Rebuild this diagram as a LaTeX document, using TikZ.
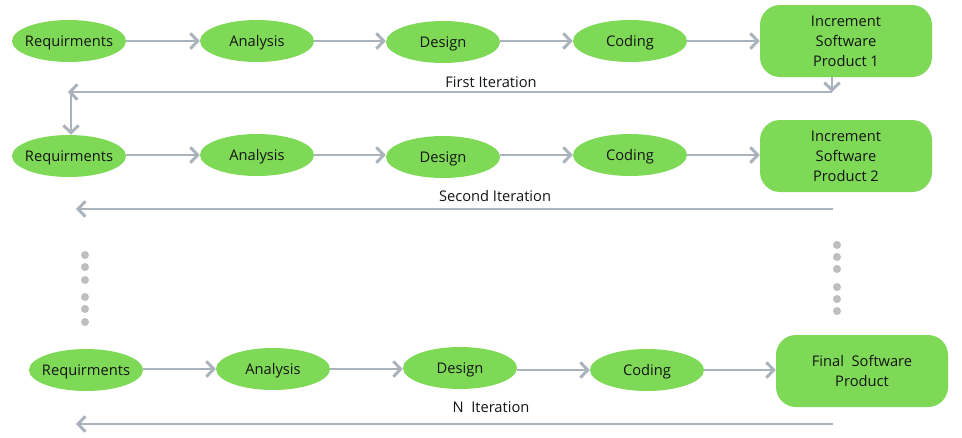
\documentclass[tikz,border=0pt]{standalone}
\usepackage{fontspec}
\setmainfont{Open Sans}
\usetikzlibrary{arrows.meta,shapes.geometric}
\definecolor{gfill}{RGB}{126,217,87}
\definecolor{garr}{RGB}{170,179,188}
\definecolor{gdot}{RGB}{190,190,190}
\definecolor{txt}{RGB}{20,20,20}
\tikzset{
  stage/.style={ellipse, fill=gfill, minimum width=85.5pt, minimum height=31.5pt, inner xsep=-3pt, inner ysep=0pt, text=txt, text height=7.6pt, text depth=0pt, font=\fontsize{11}{13}\selectfont},
  prod/.style={rectangle, rounded corners=15pt, fill=gfill, minimum width=129pt, minimum height=54pt, inner sep=0pt, text=txt, align=center, font=\fontsize{11}{15}\selectfont},
  arr/.style={draw=garr, line width=2.2pt, -{Straight Barb[length=5.5pt, width=11.5pt, line width=2.2pt]}},
  lbl/.style={text=txt, font=\fontsize{11}{13}\selectfont, inner sep=0pt},
  dotc/.style={fill=gdot}
}
\begin{document}
\begin{tikzpicture}[x=0.75pt, y=-0.75pt]
\useasboundingbox (0,0) rectangle (962,437);
% Row 1
\node[stage] (r1) at (69,41) {Requirments};
\node[stage] (a1) at (257,41) {Analysis};
\node[stage] (d1) at (443,42) {Design};
\node[stage] (c1) at (630,41) {Coding};
\node[prod] (p1) at (846,41) {Increment\\Software\\Product 1};
\draw[arr] (r1.east) -- (a1.west);
\draw[arr] (a1.east) -- (d1.west |- a1.east);
\draw[arr] (d1.east |- c1.west) -- (c1.west);
\draw[arr] (c1.east) -- (p1.west);
% Row 2
\node[stage] (r2) at (69,156) {Requirments};
\node[stage] (a2) at (257,155) {Analysis};
\node[stage] (d2) at (443,157) {Design};
\node[stage] (c2) at (630,155) {Coding};
\node[prod] (p2) at (846,156) {Increment\\Software\\Product 2};
\draw[arr] (r2.east |- a2.west) -- (a2.west);
\draw[arr] (a2.east) -- (d2.west |- a2.east);
\draw[arr] (d2.east |- c2.west) -- (c2.west);
\draw[arr] (c2.east) -- (p2.west |- c2.east);
% Row 3
\node[stage] (r3) at (86,370) {Requirments};
\node[stage] (a3) at (273,369) {Analysis};
\node[stage] (d3) at (460,368) {Design};
\node[stage] (c3) at (647,370) {Coding};
\node[prod] (p3) at (862,371) {Final\ \ Software\\Product};
\draw[arr] (r3.east |- a3.west) -- (a3.west);
\draw[arr] (a3.east) -- (d3.west |- a3.east);
\draw[arr] (d3.east |- c3.west) -- (c3.west);
\draw[arr] (c3.east) -- (p3.west |- c3.east);
% Iteration loops
\coordinate (f1a) at (832,92);
\coordinate (f1b) at (68,92);
\coordinate (f1c) at (71,94);
\draw[arr] (p1.south -| f1a) -- (f1a);
\draw[arr] (f1a) -- (f1b);
\draw[arr] (f1c) -- (f1c |- r2.north);
\node[lbl] (l1) at (491,82) {First Iteration};
\coordinate (s2a) at (833,209);
\coordinate (s2b) at (76,209);
\draw[arr] (s2a) -- (s2b);
\node[lbl] (l2) at (495,196) {Second Iteration};
\coordinate (s3a) at (833,424);
\coordinate (s3b) at (76,424);
\draw[arr] (s3a) -- (s3b);
\node[lbl] (l3) at (491,407) {N\ \ Iteration};
% dots
\foreach \yy in {255,267,280,297,309,322} \fill[dotc] (85,\yy) circle[radius=3pt];
\foreach \yy in {245,257,269,287,299,311} \fill[dotc] (837,\yy) circle[radius=3pt];
\end{tikzpicture}
\end{document}
